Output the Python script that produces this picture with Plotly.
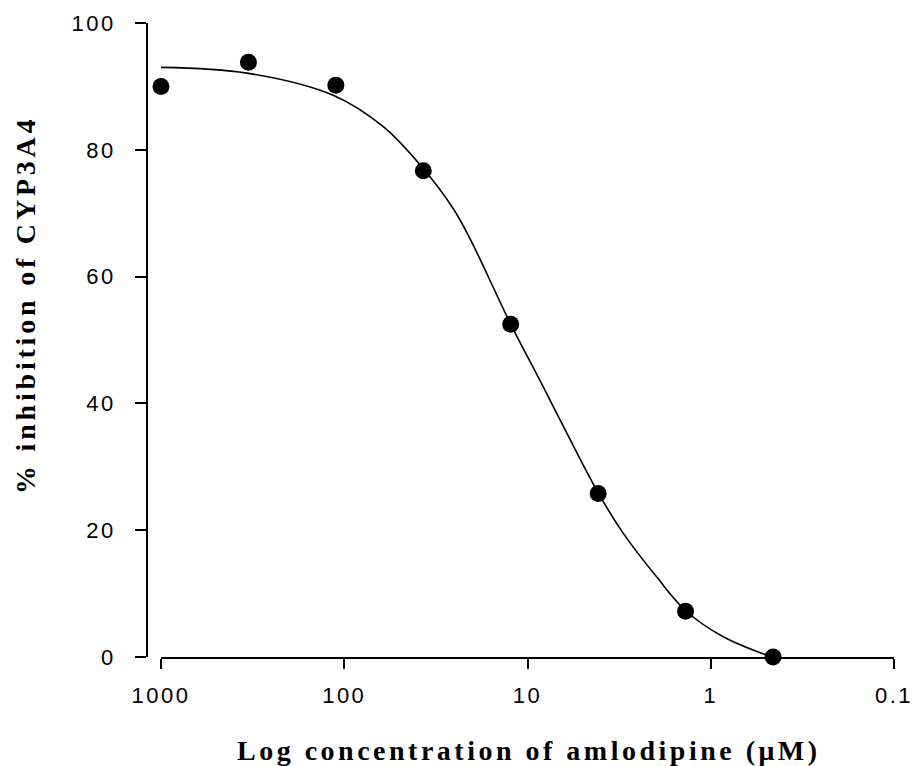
import plotly.graph_objects as go

# Measured data points (concentration in µM, % inhibition)
conc = [1000, 333.3, 111.1, 37.04, 12.35, 4.115, 1.372, 0.457]
inhib = [90.0, 93.8, 90.2, 76.7, 52.5, 25.8, 7.2, 0.0]

# Fitted curve
curve_conc = [1000, 340, 115, 61, 37, 25.4, 20.6, 12.35, 8.2, 6.1, 4.1, 3.0, 1.97, 1.37, 0.855, 0.464]
curve_inhib = [93.0, 92.1, 88.6, 83.6, 77.0, 70.7, 66.0, 52.5, 42.6, 35.3, 25.8, 19.5, 12.6, 7.3, 3.2, 0.0]

x_tickvals = [1000, 100, 10, 1, 0.1]
x_ticklabels = ["1000", "100", "10", "1", "0.1"]
y_tickvals = [0, 20, 40, 60, 80, 100]
y_ticklabels = ["0", "20", "40", "60", "80", "100"]

x_title = "Log concentration of amlodipine (μM)"
y_title = "% inhibition of CYP3A4"

W, H = 914, 766
ML, MR, MT, MB = 147, 20, 23, 109
PW = W - ML - MR
PH = H - MT - MB


def spaced(s, sp):
    return '<span style="letter-spacing:%spx">%s</span>' % (sp, s)


fig = go.Figure()
fig.add_trace(go.Scatter(x=curve_conc, y=curve_inhib, mode="lines",
                         line=dict(color="black", width=1.6, shape="spline", smoothing=1.0),
                         hoverinfo="skip", showlegend=False, cliponaxis=False))
fig.add_trace(go.Scatter(x=conc, y=inhib, mode="markers",
                         marker=dict(color="black", size=17, symbol="circle"),
                         showlegend=False, cliponaxis=False))

tickfont = dict(family="Liberation Sans, Arial, sans-serif", size=22, color="black")

fig.update_layout(
    width=W, height=H,
    margin=dict(l=ML, r=MR, t=MT, b=MB, pad=0, autoexpand=False),
    paper_bgcolor="white", plot_bgcolor="white",
    xaxis=dict(type="log", range=[3, -1], domain=[14 / PW, 1], automargin=False,
               showline=True, linecolor="black", linewidth=1.6,
               ticks="outside", ticklen=10, tickwidth=1.6, tickcolor="black",
               tickvals=x_tickvals, ticktext=[spaced(t, 2.5) for t in x_ticklabels],
               tickfont=tickfont, showgrid=False, zeroline=False,
               ticklabelstandoff=8),
    yaxis=dict(range=[0, 100], anchor="free", position=0, automargin=False,
               showline=True, linecolor="black", linewidth=1.6,
               ticks="outside", ticklen=11, tickwidth=1.6, tickcolor="black",
               tickvals=y_tickvals, ticktext=[spaced(t, 2.5) for t in y_ticklabels],
               tickfont=tickfont, showgrid=False, zeroline=False,
               ticklabelstandoff=15),
    annotations=[
        dict(text="<b>" + spaced(x_title, 3.5) + "</b>", xref="paper", yref="paper",
             x=(529 - ML) / PW, y=-(750 - (H - MB)) / PH, xanchor="center", yanchor="middle",
             showarrow=False,
             font=dict(family="Liberation Serif, Times New Roman, serif", size=28, color="black")),
        dict(text="<b>" + spaced(y_title, 3.8) + "</b>", xref="paper", yref="paper",
             x=(25 - ML) / PW, y=((H - MB) - 305) / PH, xanchor="center", yanchor="middle",
             textangle=-90, showarrow=False,
             font=dict(family="Liberation Serif, Times New Roman, serif", size=28, color="black")),
    ],
)

fig.write_html("out.html")
